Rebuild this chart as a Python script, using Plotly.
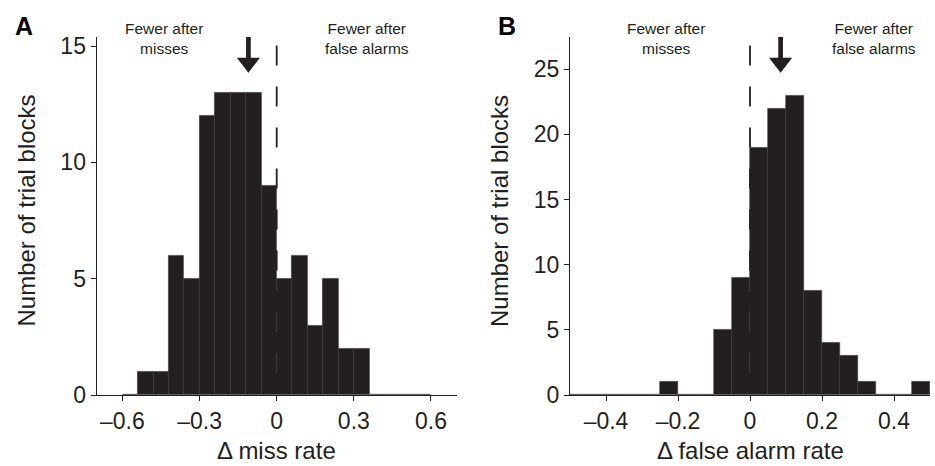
import plotly.graph_objects as go

# ---------------- data ----------------
miss_bin_centers = [-0.57, -0.51, -0.45, -0.39, -0.33, -0.27, -0.21, -0.15, -0.09, -0.03,
                    0.03, 0.09, 0.15, 0.21, 0.27, 0.33, 0.39, 0.45, 0.51, 0.57]
miss_counts = [0, 1, 1, 6, 5, 12, 13, 13, 13, 9, 5, 6, 3, 5, 2, 2, 0, 0, 0, 0]
miss_bin_width = 0.06
miss_mean = -0.11

fa_bin_centers = [-0.475, -0.425, -0.375, -0.325, -0.275, -0.225, -0.175, -0.125, -0.075, -0.025,
                  0.025, 0.075, 0.125, 0.175, 0.225, 0.275, 0.325, 0.375, 0.425, 0.475]
fa_counts = [0, 0, 0, 0, 0, 1, 0, 0, 5, 9, 19, 22, 23, 8, 4, 3, 1, 0, 0, 1]
fa_bin_width = 0.05
fa_mean = 0.085

miss_tickvals = [-0.6, -0.3, 0, 0.3, 0.6]
miss_ticktext = ["\u20130.6", "\u20130.3", "0", "0.3", "0.6"]
fa_tickvals = [-0.4, -0.2, 0, 0.2, 0.4]
fa_ticktext = ["\u20130.4", "\u20130.2", "0", "0.2", "0.4"]
count_ticks_A = [0, 5, 10, 15]
count_ticks_B = [0, 5, 10, 15, 20, 25]

left_label = "Fewer after<br>misses"
right_label = "Fewer after<br>false alarms"
y_title = "Number of trial blocks"
x_title_A = "\u0394 miss rate"
x_title_B = "\u0394 false alarm rate"

# ---------------- style ----------------
INK = "#231f20"
FONT = "Liberation Sans, Arial, Helvetica, sans-serif"
W, H = 935, 466
PLOT_TOP, PLOT_BOT = 36.7, 395.0
xdomA = [96.7 / W, 456.7 / W]
xdomB = [570.0 / W, 930.0 / W]
ydom = [1 - PLOT_BOT / H, 1 - PLOT_TOP / H]
xrangeA, yrangeA = [-0.7, 0.7], [0, 15.4]
xrangeB, yrangeB = [-0.5, 0.5], [0, 27.5]


def px_to_y(px, ymax):
    return ymax * (PLOT_BOT - px) / (PLOT_BOT - PLOT_TOP)


fig = go.Figure()


def add_panel(xa, ya, centers, counts, width, mean, ymax):
    # dashed zero line (behind bars)
    fig.add_trace(go.Scatter(x=[0, 0], y=[px_to_y(45.5, ymax), 0], mode="lines",
                             line=dict(color=INK, width=1.8, dash="20px,21px"),
                             xaxis=xa, yaxis=ya, showlegend=False, hoverinfo="skip"))
    fig.add_trace(go.Bar(x=centers, y=counts, width=width,
                         marker=dict(color=INK, line=dict(color="#3a3637", width=0.6)),
                         xaxis=xa, yaxis=ya, showlegend=False))
    # arrow showing the mean
    fig.add_trace(go.Scatter(x=[mean, mean], y=[ymax, px_to_y(60, ymax)], mode="lines",
                             line=dict(color=INK, width=4.7),
                             xaxis=xa, yaxis=ya, showlegend=False, hoverinfo="skip"))
    fig.add_trace(go.Scatter(x=[mean], y=[px_to_y(62.7, ymax)], mode="markers",
                             marker=dict(symbol="triangle-down", size=20, color=INK,
                                         line=dict(width=0)),
                             cliponaxis=False,
                             xaxis=xa, yaxis=ya, showlegend=False, hoverinfo="skip"))


add_panel("x", "y", miss_bin_centers, miss_counts, miss_bin_width, miss_mean, yrangeA[1])
add_panel("x2", "y2", fa_bin_centers, fa_counts, fa_bin_width, fa_mean, yrangeB[1])

axis_common = dict(showgrid=False, zeroline=False, showline=True, linecolor=INK, linewidth=1.3,
                   ticks="outside", ticklen=5, tickwidth=1.3, tickcolor=INK, automargin=False,
                   tickfont=dict(family=FONT, size=23, color=INK), fixedrange=True)

fig.update_layout(
    width=W, height=H, margin=dict(l=0, r=0, t=0, b=0),
    paper_bgcolor="white", plot_bgcolor="white", bargap=0,
    font=dict(family=FONT, color=INK),
    xaxis=dict(domain=xdomA, range=xrangeA, tickmode="array", tickvals=miss_tickvals,
               ticktext=miss_ticktext, anchor="y", **axis_common),
    yaxis=dict(domain=ydom, range=yrangeA, tickmode="array", tickvals=count_ticks_A,
               anchor="x", **axis_common),
    xaxis2=dict(domain=xdomB, range=xrangeB, tickmode="array", tickvals=fa_tickvals,
                ticktext=fa_ticktext, anchor="y2", **axis_common),
    yaxis2=dict(domain=ydom, range=yrangeB, tickmode="array", tickvals=count_ticks_B,
                anchor="x2", **axis_common),
)

ann_font = dict(family=FONT, size=15.5, color=INK)
title_font = dict(family=FONT, size=24, color=INK)
C = dict(showarrow=False, xanchor="center", yanchor="middle")
annotations = [
    dict(text=left_label, x=-0.44, xref="x", y=1 - 38.5 / H, yref="paper",
         font=ann_font, align="center", **C),
    dict(text=right_label, x=0.352, xref="x", y=1 - 38.5 / H, yref="paper",
         font=ann_font, align="center", **C),
    dict(text=left_label, x=-0.232, xref="x2", y=1 - 38.5 / H, yref="paper",
         font=ann_font, align="center", **C),
    dict(text=right_label, x=0.344, xref="x2", y=1 - 38.5 / H, yref="paper",
         font=ann_font, align="center", **C),
    dict(text="<b>A</b>", x=24 / W, y=1 - 26 / H, xref="paper", yref="paper",
         font=dict(family=FONT, size=25, color="black"), **C),
    dict(text="<b>B</b>", x=507 / W, y=1 - 26 / H, xref="paper", yref="paper",
         font=dict(family=FONT, size=25, color="black"), **C),
    dict(text=y_title, x=26.5 / W, y=1 - 211 / H, xref="paper", yref="paper",
         textangle=-90, font=title_font, **C),
    dict(text=y_title, x=500 / W, y=1 - 211 / H, xref="paper", yref="paper",
         textangle=-90, font=title_font, **C),
    dict(text=x_title_A, x=0, xref="x", y=0, yref="paper", yanchor="bottom",
         showarrow=False, xanchor="center", font=title_font),
    dict(text=x_title_B, x=0, xref="x2", y=0, yref="paper", yanchor="bottom",
         showarrow=False, xanchor="center", font=title_font),
]
fig.update_layout(annotations=annotations)

fig.write_html("out.html", config={"displayModeBar": False},
               post_script="document.body.style.margin='0';document.body.style.padding='0';"
                           "document.body.style.overflow='hidden';")
